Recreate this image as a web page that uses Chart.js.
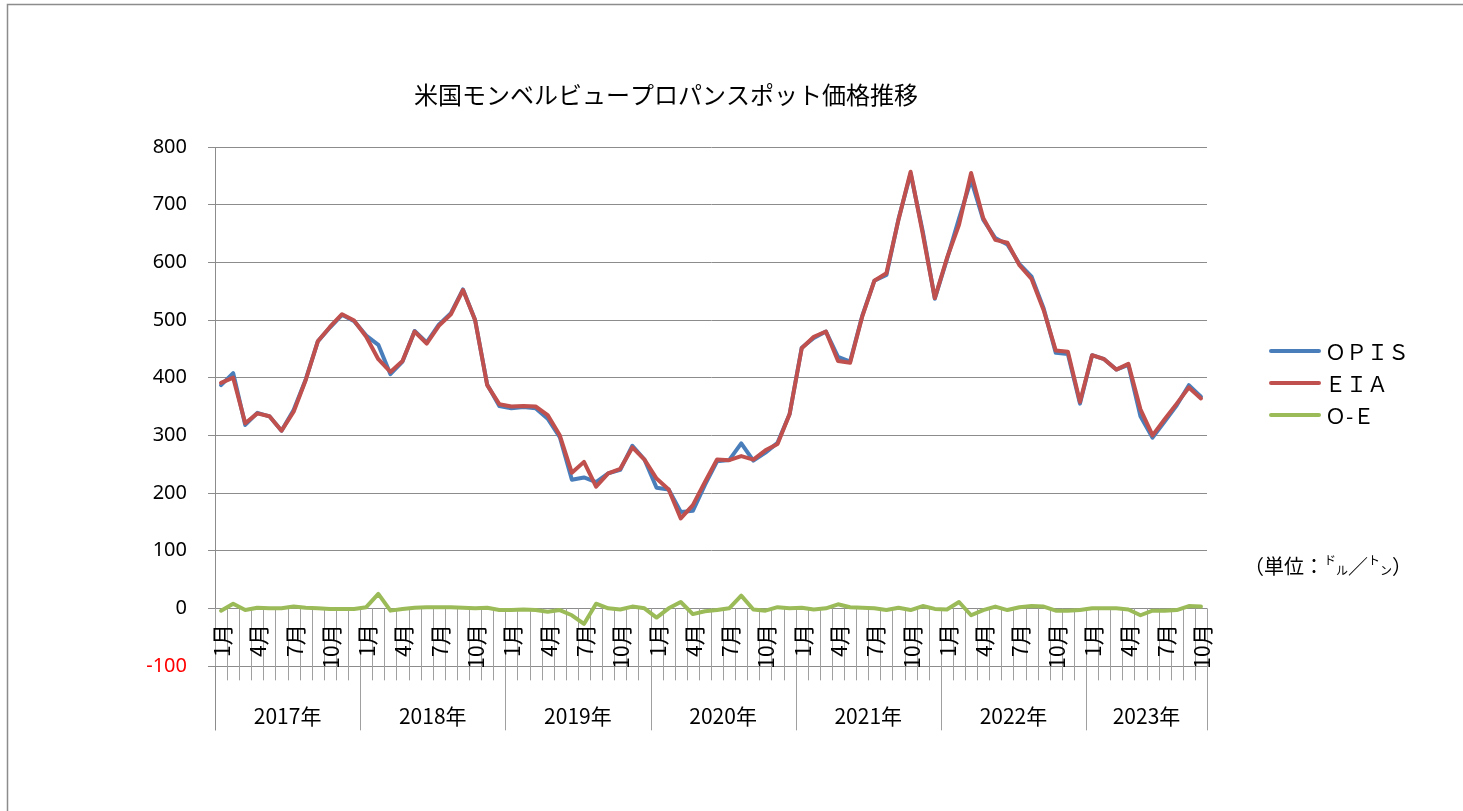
<!DOCTYPE html>
<html lang="ja">

<head>
    <meta charset="UTF-8">
    <title>米国モンベルビュープロパンスポット価格推移</title>
    <script src="https://cdn.jsdelivr.net/npm/chart.js@4.4.1/dist/chart.umd.min.js"></script>
    <style>
        body {
            margin: 0;
            background: #fff;
        }

        canvas {
            display: block;
        }
    </style>
</head>

<body>
    <canvas id="myChart" width="1463" height="811"></canvas>

    <script>
        const ctx = document.getElementById('myChart').getContext('2d');

        // 年と各年の月数 (2023年は10月まで)
        const years = ['2017年', '2018年', '2019年', '2020年', '2021年', '2022年', '2023年'];
        const monthsPerYear = [12, 12, 12, 12, 12, 12, 10];
        const monthLabels = ['1月', '2月', '3月', '4月', '5月', '6月', '7月', '8月', '9月', '10月', '11月', '12月'];

        // ドル/トン
        const opis = [
            387, 408, 318, 339, 333, 308, 344, 397, 463, 487, 509, 498,
            473, 457, 406, 428, 481, 461, 492, 512, 553, 500, 388, 351,
            347, 349, 347, 329, 297, 223, 227, 219, 234, 240, 282, 258,
            209, 206, 167, 169, 214, 255, 257, 286, 256, 270, 287, 337,
            452, 469, 480, 436, 428, 507, 568, 578, 675, 754, 654, 537,
            605, 676, 743, 674, 642, 631, 597, 575, 520, 443, 441, 355,
            439, 432, 414, 422, 333, 296, 324, 352, 387, 367
        ];
        const eia = [
            391, 400, 321, 338, 333, 308, 341, 396, 463, 488, 510, 499,
            471, 432, 410, 429, 480, 459, 490, 510, 552, 500, 387, 354,
            350, 351, 350, 335, 300, 235, 254, 211, 234, 242, 279, 258,
            225, 206, 156, 179, 219, 258, 257, 264, 258, 274, 285, 337,
            451, 471, 480, 429, 426, 506, 568, 581, 674, 757, 650, 538,
            607, 665, 755, 677, 639, 634, 595, 571, 517, 447, 445, 358,
            439, 432, 414, 424, 345, 300, 328, 355, 383, 364
        ];
        const oe = [
            -4, 8, -3, 1, 0, 0, 3, 1, 0, -1, -1, -1,
            2, 25, -4, -1, 1, 2, 2, 2, 1, 0, 1, -3,
            -3, -2, -3, -6, -3, -12, -27, 8, 0, -2, 3, 0,
            -16, 0, 11, -10, -5, -3, 0, 22, -2, -4, 2, 0,
            1, -2, 0, 7, 2, 1, 0, -3, 1, -3, 4, -1,
            -2, 11, -12, -3, 3, -3, 2, 4, 3, -4, -4, -3,
            0, 0, 0, -2, -12, -4, -4, -3, 4, 3
        ];

        const labels = [];
        years.forEach((y, i) => {
            for (let m = 0; m < monthsPerYear[i]; m++) labels.push(y + monthLabels[m]);
        });

        const fontJP = '"Noto Sans CJK JP", "Noto Sans", sans-serif';
        const gridColor = '#8c8c8c';

        // 月・年の2段ラベル、凡例、タイトルなどを手描き
        const decorPlugin = {
            id: 'decor',
            beforeDatasetsDraw(chart) {
                const { ctx, scales: { x, y }, chartArea } = chart;
                const y0 = y.getPixelForValue(0);
                const half = (x.getPixelForValue(1) - x.getPixelForValue(0)) / 2;

                const yearEdges = [0];
                monthsPerYear.forEach(n => yearEdges.push(yearEdges[yearEdges.length - 1] + n));

                ctx.save();
                ctx.strokeStyle = '#a0a0a0';
                ctx.lineWidth = 1;
                for (let i = 0; i <= labels.length; i++) {
                    const px = Math.round(x.getPixelForValue(Math.min(i, labels.length - 1)) + (i < labels.length ? -half : half)) + 0.5;
                    const bottom = yearEdges.includes(i) ? y0 + 122 : y0 + 72;
                    ctx.beginPath();
                    ctx.moveTo(px, y0);
                    ctx.lineTo(px, bottom);
                    ctx.stroke();
                }
                // 縦軸を下まで延ばす
                ctx.strokeStyle = gridColor;
                ctx.beginPath();
                ctx.moveTo(chartArea.left + 0.5, chartArea.bottom);
                ctx.lineTo(chartArea.left + 0.5, y0 + 122);
                ctx.stroke();

                // 月ラベル (1,4,7,10月のみ)
                ctx.fillStyle = '#000';
                ctx.font = '21px ' + fontJP;
                ctx.textAlign = 'right';
                ctx.textBaseline = 'middle';
                let idx = 0;
                years.forEach((yr, yi) => {
                    for (let m = 0; m < monthsPerYear[yi]; m++, idx++) {
                        if (m % 3 !== 0) continue;
                        ctx.save();
                        ctx.translate(x.getPixelForValue(idx) + 1, y0 + 16);
                        ctx.rotate(-Math.PI / 2);
                        ctx.fillText(monthLabels[m], 0, 0);
                        ctx.restore();
                    }
                });

                // 年ラベル
                ctx.font = '21px ' + fontJP;
                ctx.textAlign = 'center';
                years.forEach((yr, yi) => {
                    const a = x.getPixelForValue(yearEdges[yi]) - half;
                    const b = x.getPixelForValue(yearEdges[yi + 1] - 1) + half;
                    ctx.fillText(yr, (a + b) / 2, y0 + 108);
                });
                ctx.restore();
            },
            afterDraw(chart) {
                const { ctx } = chart;
                ctx.save();

                // 外枠
                ctx.strokeStyle = '#8c8c8c';
                ctx.lineWidth = 1.5;
                ctx.strokeRect(7.5, 4.5, 2000, 2000);

                // タイトル
                ctx.fillStyle = '#000';
                ctx.font = '24px ' + fontJP;
                ctx.textAlign = 'center';
                ctx.textBaseline = 'middle';
                ctx.fillText('米国モンベルビュープロパンスポット価格推移', 666, 95);

                // 凡例
                const legendNames = ['ＯＰＩＳ', 'ＥＩＡ', 'Ｏ-Ｅ'];
                ctx.textAlign = 'left';
                ctx.font = '21px ' + fontJP;
                chart.data.datasets.forEach((ds, i) => {
                    const ly = 351 + i * 32;
                    ctx.strokeStyle = ds.borderColor;
                    ctx.lineWidth = 4;
                    ctx.lineCap = 'round';
                    ctx.beginPath();
                    ctx.moveTo(1271, ly);
                    ctx.lineTo(1319, ly);
                    ctx.stroke();
                    ctx.fillText(legendNames[i], 1325, ly + 1);
                });

                // 単位
                let ux = 1244;
                const uy = 566;
                const part = (text, size, dy) => {
                    ctx.font = size + 'px ' + fontJP;
                    ctx.fillText(text, ux, uy + dy);
                    ux += ctx.measureText(text).width;
                };
                part('（単位：', 20, 0);
                part('ド', 12, -6);
                part('ル', 12, 4);
                part('／', 20, 0);
                part('ト', 12, -6);
                part('ン', 12, 4);
                part('）', 20, 0);

                ctx.restore();
            }
        };

        const data = {
            labels: labels,
            datasets: [
                { label: 'ＯＰＩＳ', data: opis, borderColor: '#4a7ebb', order: 2 },
                { label: 'ＥＩＡ', data: eia, borderColor: '#c0504d', order: 1 },
                { label: 'Ｏ-Ｅ', data: oe, borderColor: '#9bbb59', order: 0 }
            ]
        };

        const config = {
            type: 'line',
            data: data,
            options: {
                responsive: false,
                animation: false,
                layout: {
                    padding: { top: 147, right: 256, bottom: 145, left: 0 }
                },
                elements: {
                    line: { borderWidth: 4, tension: 0, borderJoinStyle: 'round', borderCapStyle: 'round' },
                    point: { radius: 0, hoverRadius: 0 }
                },
                plugins: {
                    legend: { display: false },
                    title: { display: false },
                    tooltip: { enabled: false }
                },
                scales: {
                    x: {
                        type: 'category',
                        offset: true,
                        display: false
                    },
                    y: {
                        min: -100,
                        max: 800,
                        afterFit(scale) {
                            scale.width = 215;
                        },
                        ticks: {
                            stepSize: 100,
                            padding: 21,
                            font: { family: '"Noto Sans", sans-serif', size: 20 },
                            color: (c) => c.tick.value < 0 ? '#ff0000' : '#000'
                        },
                        grid: {
                            color: gridColor,
                            tickLength: 7
                        },
                        border: { color: gridColor }
                    }
                }
            },
            plugins: [decorPlugin]
        };

        let meuGrafico = new Chart(ctx, config);
    </script>
</body>

</html>
